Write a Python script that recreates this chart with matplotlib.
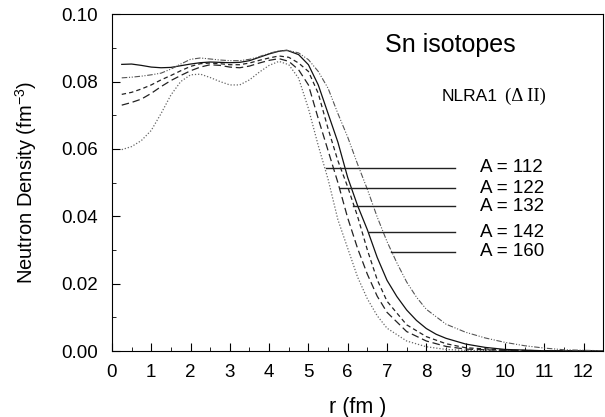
import numpy as np
import matplotlib
matplotlib.use('Agg')
import matplotlib.pyplot as plt
from matplotlib.ticker import MultipleLocator, FormatStrFormatter

plt.rcParams['font.family'] = ['Liberation Sans', 'DejaVu Sans']
plt.rcParams['mathtext.fontset'] = 'custom'
plt.rcParams['mathtext.rm'] = 'Liberation Sans'
plt.rcParams['mathtext.it'] = 'Liberation Sans:italic'

# neutron densities (r in fm, rho in fm^-3)
r_112 = [0.25, 0.5, 0.75, 1.0, 1.25, 1.5, 1.75, 2.0, 2.25, 2.5, 2.75, 3.0, 3.25, 3.5, 3.75,
         4.0, 4.25, 4.5, 4.75, 5.0, 5.25, 5.5, 5.75, 6.0, 6.25, 6.5, 6.75, 7.0, 7.5, 8.0,
         8.5, 9.0, 10.0, 11.0, 12.5]
rho_112 = [0.0598, 0.0607, 0.0625, 0.0655, 0.0705, 0.0760, 0.0800, 0.0820, 0.0822, 0.0812,
           0.0800, 0.0790, 0.0790, 0.0805, 0.0828, 0.0848, 0.0860, 0.0850, 0.0810, 0.0720,
           0.0610, 0.0510, 0.0390, 0.0305, 0.0220, 0.0155, 0.0105, 0.0068, 0.0030, 0.0013,
           0.0005, 0.0002, 0.0001, 0.0, 0.0]

r_122 = [0.25, 0.5, 0.75, 1.0, 1.25, 1.5, 1.75, 2.0, 2.25, 2.5, 2.75, 3.0, 3.25, 3.5, 3.75,
         4.0, 4.25, 4.5, 4.75, 5.0, 5.25, 5.5, 5.75, 6.0, 6.25, 6.5, 6.75, 7.0, 7.5, 8.0,
         8.5, 9.0, 10.0, 11.0, 12.5]
rho_122 = [0.0730, 0.0738, 0.0748, 0.0765, 0.0785, 0.0803, 0.0818, 0.0832, 0.0843, 0.0850,
           0.0848, 0.0843, 0.0841, 0.0846, 0.0855, 0.0863, 0.0868, 0.0860, 0.0835, 0.0790,
           0.0690, 0.0595, 0.0500, 0.0395, 0.0305, 0.0228, 0.0163, 0.0115, 0.0058, 0.0030,
           0.0014, 0.0006, 0.0002, 0.0001, 0.0]

r_132 = [0.25, 0.5, 0.75, 1.0, 1.25, 1.5, 1.75, 2.0, 2.25, 2.5, 2.75, 3.0, 3.25, 3.5, 3.75,
         4.0, 4.25, 4.5, 4.75, 5.0, 5.25, 5.5, 5.75, 6.0, 6.25, 6.5, 6.75, 7.0, 7.5, 8.0,
         8.5, 9.0, 10.0, 11.0, 12.5]
rho_132 = [0.0762, 0.0768, 0.0778, 0.0790, 0.0805, 0.0818, 0.0832, 0.0845, 0.0853, 0.0855,
           0.0853, 0.0850, 0.0850, 0.0855, 0.0863, 0.0870, 0.0876, 0.0872, 0.0855, 0.0830,
           0.0765, 0.0660, 0.0565, 0.0487, 0.0400, 0.0300, 0.0212, 0.0148, 0.0078, 0.0043,
           0.0022, 0.0010, 0.0003, 0.0001, 0.0]

r_142 = [0.25, 0.5, 0.75, 1.0, 1.25, 1.5, 1.75, 2.0, 2.25, 2.5, 2.75, 3.0, 3.25, 3.5, 3.75,
         4.0, 4.25, 4.45, 4.75, 5.0, 5.25, 5.5, 5.75, 6.0, 6.25, 6.5, 6.75, 7.0, 7.25, 7.5,
         7.75, 8.0, 8.25, 8.5, 9.0, 9.5, 10.0, 11.0, 12.5]
rho_142 = [0.0851, 0.0852, 0.0848, 0.0843, 0.0841, 0.0842, 0.0847, 0.0852, 0.0856, 0.0858,
           0.0857, 0.0856, 0.0857, 0.0862, 0.0872, 0.0882, 0.0890, 0.0893, 0.0880, 0.0850,
           0.0790, 0.0705, 0.0620, 0.0515, 0.0432, 0.0360, 0.0278, 0.0210, 0.0162, 0.0122,
           0.0091, 0.0067, 0.0050, 0.0038, 0.0021, 0.0011, 0.0005, 0.0001, 0.0]

r_160 = [0.25, 0.5, 0.75, 1.0, 1.25, 1.5, 1.75, 2.0, 2.25, 2.5, 2.75, 3.0, 3.25, 3.5, 3.75,
         4.0, 4.25, 4.5, 4.75, 5.0, 5.25, 5.5, 5.75, 6.0, 6.25, 6.5, 6.75, 7.0, 7.25, 7.5,
         7.75, 8.0, 8.5, 9.0, 9.5, 10.0, 10.5, 11.0, 11.5, 12.5]
rho_160 = [0.0811, 0.0813, 0.0816, 0.0820, 0.0825, 0.0837, 0.0852, 0.0866, 0.0870, 0.0867,
           0.0864, 0.0862, 0.0862, 0.0866, 0.0874, 0.0884, 0.0891, 0.0892, 0.0885, 0.0865,
           0.0830, 0.0780, 0.0705, 0.0635, 0.0555, 0.0480, 0.0398, 0.0325, 0.0262, 0.0205,
           0.0160, 0.0124, 0.0080, 0.0056, 0.0039, 0.0026, 0.0016, 0.0009, 0.0004, 0.0001]

labels = ['A = 112', 'A = 122', 'A = 132', 'A = 142', 'A = 160']
# where each label's pointer line meets its curve (r, rho)
pointer_r = [5.45, 5.80, 6.14, 6.54, 7.10]
pointer_rho = [0.0544, 0.0483, 0.0430, 0.0353, 0.0295]
pointer_end = 8.74

curves = [(r_112, rho_112), (r_122, rho_122), (r_132, rho_132), (r_142, rho_142), (r_160, rho_160)]
styles = [
    dict(color='#666666', linestyle=(0, (1, 1.5)), linewidth=0.9),
    dict(color='#222222', linestyle=(0, (6, 3)), linewidth=0.9),
    dict(color='#222222', linestyle=(0, (3.5, 2.5)), linewidth=0.9),
    dict(color='#111111', linestyle='-', linewidth=0.9),
    dict(color='#555555', linestyle=(0, (5, 1.5, 1, 1.5, 1, 1.5)), linewidth=0.8),
]

fig = plt.figure(figsize=(6.05, 4.17), dpi=100)
ax = fig.add_axes([0.185, 0.158, 0.812, 0.808])

for (r, rho), st in zip(curves, styles):
    ax.plot(r, rho, **st)

for x0, y0, lab in zip(pointer_r, pointer_rho, labels):
    ax.plot([x0, pointer_end], [y0, y0], color='#222222', linewidth=1.0)
    ax.text(9.36, y0, lab, fontsize=13.5, va='center', ha='left')

ax.text(8.6, 0.091, 'Sn isotopes', fontsize=18, ha='center', va='center')
ax.text(8.4, 0.0755, 'NLRA1', fontsize=12.5, ha='left', va='center')
ax.text(10.0, 0.0755, '(\u0394 II)', fontsize=13.5, ha='left', va='center',
        family=['Liberation Serif', 'DejaVu Serif'])

ax.set_xlim(0, 12.5)
ax.set_ylim(0, 0.10)
ax.xaxis.set_major_locator(MultipleLocator(1))
ax.xaxis.set_minor_locator(MultipleLocator(0.5))
ax.yaxis.set_major_locator(MultipleLocator(0.02))
ax.yaxis.set_minor_locator(MultipleLocator(0.01))
ax.yaxis.set_major_formatter(FormatStrFormatter('%.2f'))
ax.tick_params(which='both', direction='in')
ax.tick_params(which='major', length=6, labelsize=13.5)
ax.tick_params(which='minor', length=3)
ax.tick_params(axis='x', which='major', pad=9)
ax.tick_params(axis='y', which='major', pad=10)

ax.set_xlabel('r (fm )', fontsize=15.5, labelpad=12)
ax.set_ylabel('Neutron Density (fm$^{-3}$)', fontsize=14.5, labelpad=16)

fig.savefig('out.png', dpi=100)
